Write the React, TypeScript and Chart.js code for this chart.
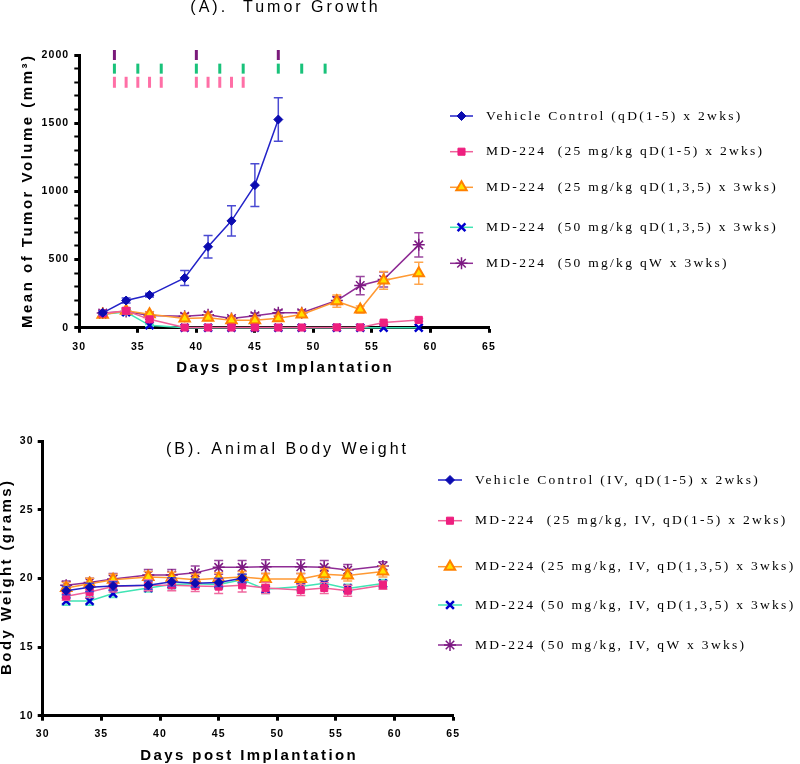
import React, { useEffect, useRef } from 'react';
import { Chart, registerables } from 'chart.js';
import { drawPoint } from 'chart.js/helpers';

Chart.register(...registerables);

// ---------------- Panel A: Tumor Growth ----------------
const daysVehicleA = [32, 34, 36, 39, 41, 43, 45, 47];
const daysTreatedA = [32, 34, 36, 39, 41, 43, 45, 47, 49, 52, 54, 56, 59];
const vehicleA = [110, 200, 240, 366, 594, 784, 1046, 1527];
const vehicleErrA = [15, 18, 14, 55, 83, 111, 156, 160];
const md25q15A = [105, 125, 62, 2, 2, 2, 2, 2, 2, 3, 3, 38, 58];
const md25q15ErrA = [15, 20, 15, 2, 2, 2, 2, 2, 2, 2, 2, 8, 10];
const md25q135A = [95, 125, 100, 68, 73, 55, 55, 70, 97, 195, 134, 347, 400];
const md25q135ErrA = [15, 15, 15, 20, 20, 15, 15, 20, 15, 45, 25, 65, 80];
const md50q135A = [100, 115, 18, 0, 0, 0, 0, 0, 0, 0, 0, 0, 0];
const md50q135ErrA = [12, 18, 8, 0, 0, 0, 0, 0, 0, 0, 0, 0, 0];
const md50qWA = [108, 120, 90, 85, 95, 68, 88, 110, 110, 200, 310, 354, 608];
const md50qWErrA = [15, 20, 15, 20, 20, 15, 20, 20, 20, 30, 67, 55, 89];

// dosing schedule marks (days) and the level (mm3) at which each row is drawn
const doseDaysQW = [33, 40, 47];
const doseDaysQ135 = [33, 35, 37, 40, 42, 44, 47, 49, 51];
const doseDaysQ15 = [33, 34, 35, 36, 37, 40, 41, 42, 43, 44];
const doseRowLevels = [2000, 1900, 1800];

const legendLabelsA = [
  'Vehicle Control (qD(1-5) x 2wks)',
  'MD-224  (25 mg/kg qD(1-5) x 2wks)',
  'MD-224  (25 mg/kg qD(1,3,5) x 3wks)',
  'MD-224  (50 mg/kg qD(1,3,5) x 3wks)',
  'MD-224  (50 mg/kg qW x 3wks)',
];
const yTickLabelsA = [0, 500, 1000, 1500, 2000];

// ---------------- Panel B: Body Weight ----------------
const daysVehicleB = [32, 34, 36, 39, 41, 43, 45, 47];
const daysTreatedB = [32, 34, 36, 39, 41, 43, 45, 47, 49, 52, 54, 56, 59];
const vehicleB = [19.1, 19.35, 19.45, 19.5, 19.75, 19.65, 19.7, 20.0];
const vehicleErrB = [0.3, 0.3, 0.3, 0.3, 0.3, 0.3, 0.3, 0.3];
const md25q15B = [18.7, 19.0, 19.4, 19.5, 19.5, 19.45, 19.4, 19.5, 19.3, 19.15, 19.3, 19.1, 19.5];
const md25q15ErrB = [0.3, 0.4, 0.4, 0.4, 0.4, 0.4, 0.5, 0.5, 0.4, 0.4, 0.4, 0.4, 0.3];
const md25q135B = [19.3, 19.6, 19.9, 20.1, 20.05, 19.9, 20.0, 20.1, 19.95, 19.95, 20.3, 20.2, 20.5];
const md25q135ErrB = [0.4, 0.4, 0.4, 0.4, 0.4, 0.4, 0.4, 0.4, 0.4, 0.4, 0.4, 0.4, 0.4];
const md50q135B = [18.35, 18.35, 18.9, 19.3, 19.55, 19.6, 19.55, 19.9, 19.2, 19.4, 19.65, 19.27, 19.62];
const md50q135ErrB = [0.3, 0.3, 0.3, 0.3, 0.3, 0.3, 0.3, 0.3, 0.3, 0.3, 0.3, 0.3, 0.3];
const md50qWB = [19.5, 19.7, 19.95, 20.25, 20.25, 20.4, 20.8, 20.8, 20.85, 20.85, 20.8, 20.6, 20.9];
const md50qWErrB = [0.3, 0.3, 0.4, 0.4, 0.4, 0.5, 0.5, 0.5, 0.5, 0.5, 0.5, 0.4, 0.3];

const legendLabelsB = [
  'Vehicle Control (IV, qD(1-5) x 2wks)',
  'MD-224  (25 mg/kg, IV, qD(1-5) x 2wks)',
  'MD-224 (25 mg/kg, IV, qD(1,3,5) x 3wks)',
  'MD-224 (50 mg/kg, IV, qD(1,3,5) x 3wks)',
  'MD-224 (50 mg/kg, IV, qW x 3wks)',
];
const yTickLabelsB = [10, 15, 20, 25, 30];
const xTickLabels = [30, 35, 40, 45, 50, 55, 60, 65];

// ---------------- styling ----------------
const FONT_SANS = 'Arial, "Liberation Sans", Helvetica, sans-serif';
const FONT_SERIF = '"Liberation Serif", "Times New Roman", Times, serif';

const seriesStyles: any[] = [
  { borderColor: '#2323c8', pointStyle: 'rectRot', pointRadius: 4.5, pointBackgroundColor: '#0b0bb0', pointBorderColor: '#0b0bb0', pointBorderWidth: 1, errorColor: '#4a4ad2' },
  { borderColor: '#f0609a', pointStyle: 'rect', pointRadius: 5, pointBackgroundColor: '#ee1f7f', pointBorderColor: '#ee1f7f', pointBorderWidth: 1, errorColor: '#f06aa0' },
  { borderColor: '#ff9933', pointStyle: 'triangle', pointRadius: 6, pointBackgroundColor: '#ffe100', pointBorderColor: '#ff8000', pointBorderWidth: 2, errorColor: '#ffa64d' },
  { borderColor: '#40e4b4', pointStyle: 'crossRot', pointRadius: 5.5, pointBackgroundColor: '#0000cd', pointBorderColor: '#0000cd', pointBorderWidth: 2.5, errorColor: '#5ee8c0' },
  { borderColor: '#8f2c95', pointStyle: 'star', pointRadius: 6, pointBackgroundColor: '#7d1a82', pointBorderColor: '#7d1a82', pointBorderWidth: 1.5, errorColor: '#9a48a0' },
];

function series(days: number[], vals: number[], errs: number[], style: any) {
  return {
    data: days.map((d, i) => ({ x: d, y: vals[i] })),
    errorBars: errs,
    borderWidth: 1.5,
    fill: false,
    tension: 0,
    clip: 8,
    ...style,
  };
}

function doseRow(days: number[], level: number, color: string, radius: number) {
  return {
    data: days.map((d) => ({ x: d, y: level })),
    showLine: false,
    pointStyle: 'line',
    pointRotation: 90,
    pointRadius: radius,
    pointBorderWidth: 3,
    pointBorderColor: color,
    pointBackgroundColor: color,
    borderColor: color,
    clip: false,
  };
}

function drawSpaced(ctx: any, text: string, x: number, y: number, font: string, spacing: number, color: string, rotation: number, align: string) {
  ctx.save();
  ctx.font = font;
  ctx.letterSpacing = '0px';
  const w = ctx.measureText(text).width + spacing * (Array.from(text).length - 1);
  ctx.letterSpacing = spacing + 'px';
  ctx.translate(x, y);
  if (rotation) ctx.rotate((rotation * Math.PI) / 180);
  ctx.fillStyle = color;
  ctx.textBaseline = 'middle';
  ctx.textAlign = 'left';
  ctx.fillText(text, align === 'center' ? -w / 2 : 0, 0);
  ctx.restore();
}

const decorPlugin: any = {
  id: 'decor',
  beforeDraw(chart: any, _a: any, opts: any) {
    chart.ctx.letterSpacing = (opts.tickSpacing || 0) + 'px';
  },
  beforeDatasetDraw(chart: any, args: any) {
    const ds: any = chart.data.datasets[args.index];
    if (!ds.errorBars) return;
    const ctx = chart.ctx;
    const ys = chart.scales.y;
    const a = chart.chartArea;
    ctx.save();
    ctx.beginPath();
    ctx.rect(a.left, a.top - 4, a.right - a.left, a.bottom - a.top + 4);
    ctx.clip();
    ctx.strokeStyle = ds.errorColor;
    ctx.lineWidth = 1.5;
    args.meta.data.forEach((pt: any, i: number) => {
      const e = ds.errorBars[i];
      if (!e) return;
      const v = ds.data[i].y;
      const y1 = ys.getPixelForValue(v + e);
      const y2 = ys.getPixelForValue(v - e);
      ctx.beginPath();
      ctx.moveTo(pt.x, y1);
      ctx.lineTo(pt.x, y2);
      ctx.moveTo(pt.x - 4.5, y1);
      ctx.lineTo(pt.x + 4.5, y1);
      ctx.moveTo(pt.x - 4.5, y2);
      ctx.lineTo(pt.x + 4.5, y2);
      ctx.stroke();
    });
    ctx.restore();
  },
  afterDraw(chart: any, _a: any, opts: any) {
    const ctx = chart.ctx;
    ctx.save();
    ctx.letterSpacing = '0px';
    (opts.texts || []).forEach((t: any) =>
      drawSpaced(ctx, t.text, t.x, t.y, t.font, t.spacing, '#000', t.rotation || 0, 'center')
    );
    const lg = opts.legend;
    if (lg) {
      lg.labels.forEach((label: string, i: number) => {
        const ds: any = chart.data.datasets[i];
        const y = lg.rows[i];
        ctx.save();
        ctx.strokeStyle = ds.borderColor;
        ctx.lineWidth = 1.5;
        ctx.beginPath();
        ctx.moveTo(lg.x1, y);
        ctx.lineTo(lg.x2, y);
        ctx.stroke();
        ctx.fillStyle = ds.pointBackgroundColor;
        ctx.strokeStyle = ds.pointBorderColor;
        ctx.lineWidth = ds.pointBorderWidth;
        drawPoint(ctx, { pointStyle: ds.pointStyle, radius: ds.pointRadius, rotation: 0, borderWidth: ds.pointBorderWidth } as any, (lg.x1 + lg.x2) / 2, y);
        ctx.restore();
        drawSpaced(ctx, label, lg.textX, y, lg.font, lg.spacing, '#000', 0, 'left');
      });
    }
    ctx.restore();
  },
};

function axisCommon(min: number, max: number, step: number, labels: number[], padding: number, fit: (s: any) => void) {
  return {
    type: 'linear',
    min,
    max,
    offset: false,
    afterFit: fit,
    border: { display: true, color: '#000', width: 3 },
    grid: {
      drawOnChartArea: false,
      drawTicks: true,
      tickLength: 5,
      tickColor: '#000',
      tickWidth: (c: any) => (c.tick && labels.includes(c.tick.value) ? 3 : 2),
    },
    ticks: {
      stepSize: step,
      autoSkip: false,
      maxTicksLimit: 50,
      padding,
      color: '#000',
      font: { family: FONT_SANS, size: 10.5, weight: 'bold' },
      callback: (v: any) => (labels.includes(Number(v)) ? String(v) : ''),
    },
  };
}

function configA(): any {
  return {
    type: 'line',
    data: {
      datasets: [
        series(daysVehicleA, vehicleA, vehicleErrA, seriesStyles[0]),
        series(daysTreatedA, md25q15A, md25q15ErrA, seriesStyles[1]),
        series(daysTreatedA, md25q135A, md25q135ErrA, seriesStyles[2]),
        series(daysTreatedA, md50q135A, md50q135ErrA, seriesStyles[3]),
        series(daysTreatedA, md50qWA, md50qWErrA, seriesStyles[4]),
        doseRow(doseDaysQW, doseRowLevels[0], '#7a1a7a', 5),
        doseRow(doseDaysQ135, doseRowLevels[1], '#19c27a', 5),
        doseRow(doseDaysQ15, doseRowLevels[2], '#ff6fa6', 5.5),
      ],
    },
    options: {
      responsive: false,
      animation: false,
      events: [],
      layout: { padding: { left: 0, top: 55, right: 311, bottom: 0 } },
      plugins: {
        legend: { display: false },
        tooltip: { enabled: false },
        decor: {
          tickSpacing: 1.1,
          texts: [
            { text: '(A).  Tumor Growth', x: 284, y: 8, font: '16px ' + FONT_SANS, spacing: 3 },
            { text: 'Mean of Tumor Volume (mm³)', x: 28.3, y: 192, rotation: -90, font: 'bold 15px ' + FONT_SANS, spacing: 2.5 },
            { text: 'Days post Implantation', x: 284, y: 368, font: 'bold 15px ' + FONT_SANS, spacing: 2.4 },
          ],
          legend: {
            labels: legendLabelsA,
            rows: [116, 151.7, 187.3, 227.3, 263.3],
            x1: 450,
            x2: 473,
            textX: 486,
            font: '13.5px ' + FONT_SERIF,
            spacing: 2.3,
          },
        },
      },
      scales: {
        x: axisCommon(30, 65, 5, xTickLabels, 8, (s: any) => { s.height = 72.2; }),
        y: axisCommon(0, 2000, 100, yTickLabelsA, 5, (s: any) => { s.width = 79.3; }),
      },
    },
    plugins: [decorPlugin],
  };
}

function configB(): any {
  return {
    type: 'line',
    data: {
      datasets: [
        series(daysVehicleB, vehicleB, vehicleErrB, seriesStyles[0]),
        series(daysTreatedB, md25q15B, md25q15ErrB, seriesStyles[1]),
        series(daysTreatedB, md25q135B, md25q135ErrB, seriesStyles[2]),
        series(daysTreatedB, md50q135B, md50q135ErrB, seriesStyles[3]),
        series(daysTreatedB, md50qWB, md50qWErrB, seriesStyles[4]),
      ],
    },
    options: {
      responsive: false,
      animation: false,
      events: [],
      layout: { padding: { left: 0, top: 41, right: 346.7, bottom: 0 } },
      plugins: {
        legend: { display: false },
        tooltip: { enabled: false },
        decor: {
          tickSpacing: 1.1,
          texts: [
            { text: '(B). Animal Body Weight', x: 286, y: 50, font: '16px ' + FONT_SANS, spacing: 3 },
            { text: 'Body Weight (grams)', x: 7, y: 178, rotation: -90, font: 'bold 15px ' + FONT_SANS, spacing: 2.4 },
            { text: 'Days post Implantation', x: 248, y: 356, font: 'bold 15px ' + FONT_SANS, spacing: 2.4 },
          ],
          legend: {
            labels: legendLabelsB,
            rows: [80, 120.7, 166.7, 205, 245],
            x1: 438,
            x2: 462,
            textX: 475,
            font: '13.5px ' + FONT_SERIF,
            spacing: 2.3,
          },
        },
      },
      scales: {
        x: axisCommon(30, 65, 5, xTickLabels, 7.5, (s: any) => { s.height = 48.3; }),
        y: axisCommon(10, 30, 5, yTickLabelsB, 4, (s: any) => { s.width = 42.7; }),
      },
    },
    plugins: [decorPlugin],
  };
}

function ChartCanvas({ make, top, height }: { make: () => any; top: number; height: number }) {
  const ref = useRef<HTMLCanvasElement | null>(null);
  useEffect(() => {
    if (!ref.current) return;
    const chart = new Chart(ref.current, make());
    return () => chart.destroy();
  }, [make]);
  return (
    <canvas
      ref={ref}
      width={800}
      height={height}
      style={{ position: 'absolute', left: 0, top, width: 800, height, display: 'block' }}
    />
  );
}

export default function App() {
  return (
    <div style={{ position: 'absolute', left: 0, top: 0, width: 800, height: 764, background: '#fff' }}>
      <ChartCanvas make={configA} top={0} height={400} />
      <ChartCanvas make={configB} top={400} height={364} />
    </div>
  );
}
